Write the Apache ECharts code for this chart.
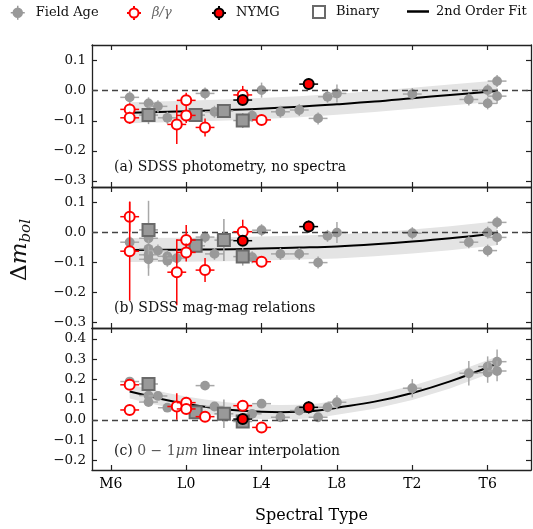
<!DOCTYPE html>
<html>
<head>
<meta charset="utf-8">
<script src="https://cdn.jsdelivr.net/npm/echarts@6/dist/echarts.min.js"></script>
<style>
  html, body { margin: 0; padding: 0; background: #fff; }
  #chart { width: 533px; height: 529px; }
</style>
</head>
<body>
<div id="chart"></div>
<script>
// spectral type numbers: M6 = 6, L0 = 10, L4 = 14, L8 = 18, T2 = 22, T6 = 26
var xTicks = [6, 10, 14, 18, 22, 26];
var xTickNames = ['M6', 'L0', 'L4', 'L8', 'T2', 'T6'];
var yTicksAB = [-0.3, -0.2, -0.1, 0, 0.1];
var yTicksC = [-0.2, -0.1, 0, 0.1, 0.2, 0.3, 0.4];
var XERR = 0.5;

// [spt, dmbol, yerr]
// (a) SDSS photometry
var fieldA = [
  [7, -0.022, 0.02], [8, -0.042, 0.02], [8.5, -0.052, 0.02], [9, -0.09, 0.02],
  [11, -0.009, 0.02], [11.5, -0.07, 0.02], [13.5, -0.083, 0.02], [14, 0.002, 0.025],
  [15, -0.07, 0.02], [16, -0.064, 0.02], [17, -0.092, 0.02], [17.5, -0.02, 0.02],
  [18, -0.009, 0.03], [22, -0.011, 0.02], [25, -0.029, 0.02], [26, 0.002, 0.02],
  [26, -0.042, 0.02], [26.5, 0.032, 0.02], [26.5, -0.018, 0.025]
];
var betaA = [
  [7, -0.062, 0.02], [7, -0.09, 0.02], [9.5, -0.112, 0.065], [10, -0.032, 0.025],
  [10, -0.082, 0.025], [11, -0.122, 0.03], [13, -0.014, 0.03], [14, -0.097, 0.015]
];
var nymgA = [[13, -0.031, 0.015], [16.5, 0.022, 0.02]];
var binA = [[8, -0.081, 0.03], [10.5, -0.081, 0.02], [12, -0.067, 0.02], [13, -0.099, 0.025]];
var fitAX = [7, 10, 13, 16, 18, 20, 22, 24, 26.5];
var fitAY = [-0.073, -0.068, -0.062, -0.053, -0.045, -0.036, -0.025, -0.014, -0.001];
var bandA = 0.035;

// (b) SDSS mag-mag relations
var fieldB = [
  [7, -0.033, 0.02], [8, -0.02, 0.125], [8, -0.055, 0.03], [8, -0.075, 0.03], [8, -0.09, 0.03],
  [8.5, -0.061, 0.02], [9, -0.08, 0.02], [9, -0.095, 0.02], [9.5, -0.086, 0.02],
  [11, -0.016, 0.02], [11.5, -0.072, 0.02], [13.5, -0.083, 0.02], [14, 0.007, 0.02],
  [15, -0.072, 0.02], [16, -0.072, 0.02], [17, -0.101, 0.02], [17.5, -0.012, 0.02],
  [18, -0.001, 0.035], [22, -0.003, 0.02], [25, -0.033, 0.02], [26, -0.001, 0.02],
  [26, -0.061, 0.02], [26.5, 0.033, 0.02], [26.5, -0.017, 0.025]
];
var betaB = [
  [7, 0.052, 0.05], [7, -0.063, 0.165], [9.5, -0.133, 0.11], [10, -0.026, 0.05],
  [10, -0.067, 0.03], [11, -0.126, 0.04], [13, 0.002, 0.04], [14, -0.098, 0.015]
];
var nymgB = [[13, -0.028, 0.015], [16.5, 0.019, 0.02]];
var binB = [[8, 0.008, 0.02], [10.5, -0.045, 0.02], [12, -0.026, 0.07], [13, -0.081, 0.03]];
var fitBX = [7, 10, 13, 16, 18, 20, 22, 24, 26.5];
var fitBY = [-0.059, -0.058, -0.056, -0.051, -0.047, -0.04, -0.031, -0.02, -0.003];
var bandB = 0.04;

// (c) 0-1um linear interpolation
var fieldC = [
  [7, 0.189, 0.02], [8, 0.12, 0.02], [8, 0.088, 0.02], [8.5, 0.118, 0.02], [9, 0.06, 0.02],
  [11, 0.169, 0.02], [11.5, 0.066, 0.02], [13.5, 0.03, 0.02], [14, 0.08, 0.02],
  [15, 0.013, 0.02], [16, 0.046, 0.02], [17, 0.013, 0.02], [17.5, 0.062, 0.02],
  [18, 0.087, 0.035], [22, 0.156, 0.045], [25, 0.23, 0.06], [26, 0.263, 0.05],
  [26, 0.233, 0.05], [26.5, 0.287, 0.06], [26.5, 0.241, 0.05]
];
var betaC = [
  [7, 0.173, 0.02], [7, 0.049, 0.02], [9.5, 0.066, 0.065], [10, 0.085, 0.02],
  [10, 0.054, 0.02], [11, 0.016, 0.02], [13, 0.07, 0.02], [14, -0.037, 0.015]
];
var nymgC = [[13, 0.004, 0.015], [16.5, 0.062, 0.03]];
var binC = [[8, 0.177, 0.02], [10.5, 0.038, 0.02], [12, 0.03, 0.07], [13, -0.008, 0.02]];
var fitCX = [7, 8, 9, 10, 11, 12, 13, 14, 15, 16, 17, 18, 20, 22, 24, 26.5];
var fitCY = [0.14, 0.118, 0.097, 0.08, 0.065, 0.053, 0.045, 0.04, 0.038, 0.04, 0.046, 0.06, 0.09, 0.133, 0.19, 0.277];
var bandC = 0.035;

var FONT = 'DejaVu Serif';
var GRAY = '#999999';

var chart = echarts.init(document.getElementById('chart'));

function fmtY(v) {
  if (Math.abs(v) < 1e-9) return '0.0';
  return v.toFixed(1).replace('-', '\u2212');
}

function zip(xs, ys) {
  return xs.map(function (x, i) { return [x, ys[i]]; });
}

// error bars + marker, one custom series per group
function errSeries(name, data, g, kind, z) {
  var st = {
    field: { bar: '#a8a8a8', fill: GRAY, stroke: null },
    beta: { bar: '#ff0000', fill: '#ffffff', stroke: '#ff0000' },
    nymg: { bar: '#000000', fill: '#ff0000', stroke: '#000000' },
    binary: { bar: '#a0a0a0', fill: GRAY, stroke: '#6a6a6a' }
  }[kind];
  return {
    type: 'custom',
    name: name,
    xAxisIndex: g * 2,
    yAxisIndex: g * 2,
    z: z,
    clip: true,
    itemStyle: { color: st.fill },
    data: data,
    renderItem: function (params, api) {
      var x = api.value(0), y = api.value(1), e = api.value(2);
      var c = api.coord([x, y]);
      var l = api.coord([x - XERR, y]), r = api.coord([x + XERR, y]);
      var t = api.coord([x, y + e]), b = api.coord([x, y - e]);
      var kids = [
        { type: 'line', shape: { x1: l[0], y1: c[1], x2: r[0], y2: c[1] }, style: { stroke: st.bar, lineWidth: 1.5 } },
        { type: 'line', shape: { x1: c[0], y1: t[1], x2: c[0], y2: b[1] }, style: { stroke: st.bar, lineWidth: 1.5 } }
      ];
      if (kind === 'binary') {
        kids.push({ type: 'rect', shape: { x: c[0] - 6, y: c[1] - 6, width: 12, height: 12 },
          style: { fill: st.fill, stroke: st.stroke, lineWidth: 2 } });
      } else {
        kids.push({ type: 'circle', shape: { cx: c[0], cy: c[1], r: kind === 'field' ? 4.9 : 5 },
          style: { fill: st.fill, stroke: st.stroke, lineWidth: st.stroke ? 2 : 0 } });
      }
      return { type: 'group', children: kids };
    }
  };
}

function bandSeries(xs, ys, hw, g) {
  return {
    type: 'custom',
    name: 'band',
    xAxisIndex: g * 2,
    yAxisIndex: g * 2,
    z: 1,
    silent: true,
    clip: true,
    data: [[xs[0], ys[0]]],
    renderItem: function (params, api) {
      var pts = [];
      for (var i = 0; i < xs.length; i++) pts.push(api.coord([xs[i], ys[i] + hw]));
      for (var j = xs.length - 1; j >= 0; j--) pts.push(api.coord([xs[j], ys[j] - hw]));
      return { type: 'polygon', shape: { points: pts }, style: { fill: '#e4e4e4' } };
    }
  };
}

function fitSeries(xs, ys, g) {
  return {
    type: 'line',
    name: '2nd Order Fit',
    xAxisIndex: g * 2,
    yAxisIndex: g * 2,
    z: 3,
    showSymbol: false,
    smooth: 0.4,
    silent: true,
    lineStyle: { color: '#000', width: 2 },
    itemStyle: { color: '#000' },
    data: zip(xs, ys),
    markLine: {
      silent: true,
      symbol: 'none',
      label: { show: false },
      lineStyle: { color: '#444', width: 1.4, type: [6, 4] },
      data: [{ yAxis: 0 }]
    }
  };
}

var grids = [
  { left: 92, right: 2, top: 45, height: 142 },
  { left: 92, right: 2, top: 187, height: 141 },
  { left: 92, right: 2, top: 328, height: 142 }
];
var yRanges = [[-0.32, 0.152], [-0.319, 0.151], [-0.247, 0.453]];
var yTickSets = [yTicksAB, yTicksAB, yTicksC];

var axisLine = { show: true, onZero: false, lineStyle: { color: '#222', width: 1.3 } };
var xAxes = [], yAxes = [];
for (var g = 0; g < 3; g++) {
  xAxes.push({
    gridIndex: g, type: 'value', min: 5.0, max: 28.3, position: 'bottom',
    axisLine: axisLine,
    axisTick: { show: true, inside: true, length: 5, customValues: xTicks, lineStyle: { color: '#222', width: 1.2 } },
    axisLabel: { show: g === 2, customValues: xTicks, margin: 7, color: '#000', fontFamily: FONT, fontSize: 14,
      formatter: function (v) { var i = xTicks.indexOf(v); return i >= 0 ? xTickNames[i] : ''; } },
    splitLine: { show: false },
    name: g === 2 ? 'Spectral Type' : '',
    nameLocation: 'middle', nameGap: 38,
    nameTextStyle: { fontFamily: FONT, fontSize: 16, color: '#000' }
  });
  xAxes.push({
    gridIndex: g, type: 'value', min: 5.0, max: 28.3, position: 'top',
    axisLine: axisLine,
    axisTick: { show: true, inside: true, length: 5, customValues: xTicks, lineStyle: { color: '#222', width: 1.2 } },
    axisLabel: { show: false },
    splitLine: { show: false }
  });
  yAxes.push({
    gridIndex: g, type: 'value', min: yRanges[g][0], max: yRanges[g][1], position: 'left',
    axisLine: axisLine,
    axisTick: { show: true, inside: true, length: 5, customValues: yTickSets[g], lineStyle: { color: '#222', width: 1.2 } },
    axisLabel: { customValues: yTickSets[g], margin: 6, color: '#111', fontFamily: FONT, fontSize: 13.5, formatter: fmtY },
    splitLine: { show: false }
  });
  yAxes.push({
    gridIndex: g, type: 'value', min: yRanges[g][0], max: yRanges[g][1], position: 'right',
    axisLine: axisLine,
    axisTick: { show: true, inside: true, length: 5, customValues: yTickSets[g], lineStyle: { color: '#222', width: 1.2 } },
    axisLabel: { show: false },
    splitLine: { show: false }
  });
}

var panels = [
  [fieldA, betaA, nymgA, binA, fitAX, fitAY, bandA],
  [fieldB, betaB, nymgB, binB, fitBX, fitBY, bandB],
  [fieldC, betaC, nymgC, binC, fitCX, fitCY, bandC]
];
var series = [];
panels.forEach(function (p, g) {
  series.push(bandSeries(p[4], p[5], p[6], g));
  series.push(fitSeries(p[4], p[5], g));
  series.push(errSeries('Field Age', p[0], g, 'field', 4));
  series.push(errSeries('Binary', p[3], g, 'binary', 5));
  series.push(errSeries('\u03b2/\u03b3', p[1], g, 'beta', 6));
  series.push(errSeries('NYMG', p[2], g, 'nymg', 7));
});

var crossIcon = 'path://M0,7H2.5M11.5,7H14M7,0V2.5M7,11.5V14M11.5,7A4.5,4.5,0,1,1,2.5,7A4.5,4.5,0,1,1,11.5,7Z';
function legendItem(name, left, pad, icon, itemStyle, textStyle, w, h) {
  return {
    left: left, top: 0, orient: 'horizontal', selectedMode: false,
    itemWidth: w || 14, itemHeight: h || 14,
    icon: icon,
    itemStyle: itemStyle,
    data: [name],
    textStyle: Object.assign({ fontFamily: FONT, fontSize: 13, color: '#111', padding: [0, 0, 0, pad] }, textStyle || {})
  };
}

var option = {
  animation: false,
  backgroundColor: '#fff',
  grid: grids,
  xAxis: xAxes,
  yAxis: yAxes,
  legend: [
    legendItem('Field Age', 5, 6, crossIcon, { color: GRAY, borderColor: GRAY, borderWidth: 1.5 }),
    legendItem('\u03b2/\u03b3', 121, 6, crossIcon, { color: '#fff', borderColor: '#ff0000', borderWidth: 2 },
      { fontStyle: 'italic', color: '#666' }),
    legendItem('NYMG', 206, 5, crossIcon, { color: '#ff0000', borderColor: '#000', borderWidth: 2 }),
    legendItem('Binary', 307, 6, 'rect', { color: '#fff', borderColor: '#6a6a6a', borderWidth: 2 }, null, 12, 12),
    legendItem('2nd Order Fit', 402, 2, 'rect', { color: '#000', borderWidth: 0 }, null, 22, 2.5)
  ],
  graphic: [
    { type: 'text', x: 114, y: 167.5, z: 10,
      style: { text: '(a) SDSS photometry, no spectra', fontFamily: FONT, fontSize: 14, fill: '#111', verticalAlign: 'middle' } },
    { type: 'text', x: 114, y: 308.5, z: 10,
      style: { text: '(b) SDSS mag-mag relations', fontFamily: FONT, fontSize: 14, fill: '#111', verticalAlign: 'middle' } },
    { type: 'text', x: 114, y: 451.5, z: 10,
      style: {
        text: '{t|(c) }{n|0 \u2212 1}{i|\u03bcm}{t| linear interpolation}', verticalAlign: 'middle',
        rich: {
          t: { fontFamily: FONT, fontSize: 14, fill: '#111' },
          n: { fontFamily: FONT, fontSize: 14, fill: '#555' },
          i: { fontFamily: FONT, fontSize: 14, fontStyle: 'italic', fill: '#555' }
        }
      } },
    { type: 'text', x: 20, y: 250, rotation: Math.PI / 2, z: 10,
      style: {
        text: '{d|\u0394}{m|m}{s|bol}', align: 'center', verticalAlign: 'middle',
        rich: {
          d: { fontFamily: FONT, fontSize: 23, lineHeight: 28, fill: '#111' },
          m: { fontFamily: FONT, fontSize: 23, lineHeight: 28, fontStyle: 'italic', fill: '#111' },
          s: { fontFamily: FONT, fontSize: 15, lineHeight: 15, fontStyle: 'italic', fill: '#111', verticalAlign: 'bottom' }
        }
      } }
  ],
  series: series
};

chart.setOption(option);
</script>
</body>
</html>
